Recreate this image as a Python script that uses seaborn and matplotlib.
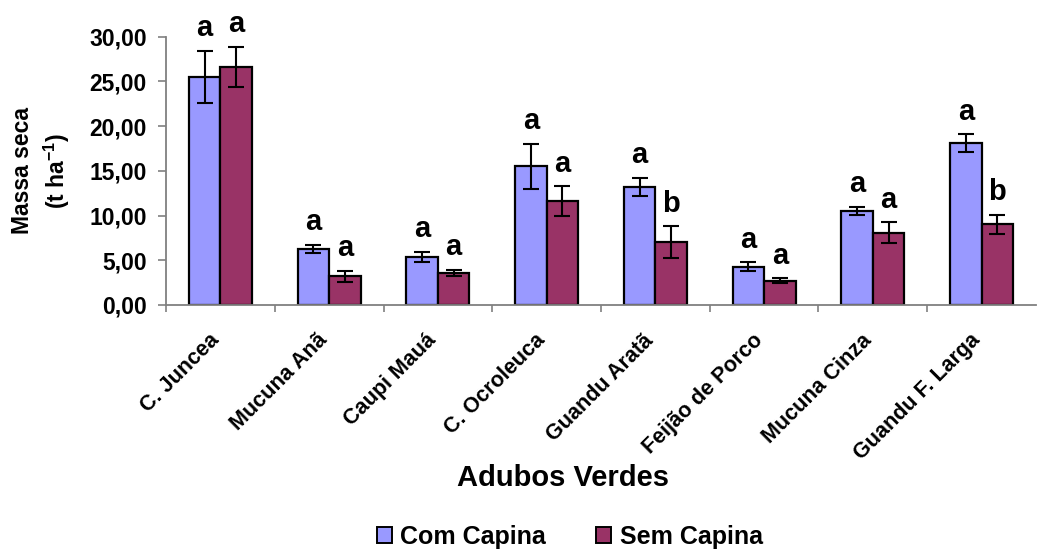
import matplotlib
matplotlib.use("Agg")
import matplotlib.pyplot as plt
from matplotlib.ticker import FixedLocator, FuncFormatter
from matplotlib.transforms import ScaledTranslation
import seaborn as sns
import pandas as pd
import numpy as np

# Green manure species and dry mass (t/ha) with and without weeding
especies = ["C. Juncea", "Mucuna Anã", "Caupi Mauá", "C. Ocroleuca",
            "Guandu Aratã", "Feijão de Porco", "Mucuna Cinza", "Guandu F. Larga"]
tratamentos = ["Com Capina", "Sem Capina"]

com_capina = [25.5, 6.3, 5.4, 15.5, 13.2, 4.3, 10.5, 18.1]
sem_capina = [26.6, 3.2, 3.6, 11.6, 7.0, 2.7, 8.1, 9.0]
erro_com = [2.9, 0.45, 0.55, 2.5, 1.05, 0.45, 0.45, 1.0]
erro_sem = [2.25, 0.65, 0.35, 1.65, 1.8, 0.28, 1.15, 1.1]
letras_com = ["a", "a", "a", "a", "a", "a", "a", "a"]
letras_sem = ["a", "a", "a", "a", "b", "a", "a", "b"]

cores = ["#9999FF", "#993366"]

sns.set_theme(style="white")
plt.rcParams["font.family"] = ["Liberation Sans", "DejaVu Sans"]
plt.rcParams["font.weight"] = "bold"
plt.rcParams["text.color"] = "black"
plt.rcParams["axes.labelcolor"] = "black"
plt.rcParams["xtick.labelcolor"] = "black"
plt.rcParams["ytick.labelcolor"] = "black"
plt.rcParams["mathtext.fontset"] = "custom"
plt.rcParams["mathtext.rm"] = "Liberation Sans:bold"
plt.rcParams["mathtext.bf"] = "Liberation Sans:bold"
plt.rcParams["mathtext.default"] = "bf"

df = pd.DataFrame({
    "especie": especies * 2,
    "tratamento": [tratamentos[0]] * len(especies) + [tratamentos[1]] * len(especies),
    "massa": com_capina + sem_capina,
})

fig = plt.figure(figsize=(10.38, 5.51), dpi=100)
ax = fig.add_axes([0.160, 0.4465, 0.838, 0.487])

sns.barplot(data=df, x="especie", y="massa", hue="tratamento",
            order=especies, hue_order=tratamentos, palette=cores,
            width=0.58, errorbar=None, edgecolor="black", linewidth=1.6,
            saturation=1, ax=ax, legend=True)

erros = [erro_com, erro_sem]
letras = [letras_com, letras_sem]
valores = [com_capina, sem_capina]
for cont, err, let, val in zip(ax.containers, erros, letras, valores):
    xs = [p.get_x() + p.get_width() / 2 for p in cont.patches]
    ax.errorbar(xs, val, yerr=err, fmt="none", ecolor="black",
                elinewidth=1.5, capsize=5.5, capthick=1.5, zorder=5)
    for x, v, e, s in zip(xs, val, err, let):
        ax.annotate(s, (x, v + e), xytext=(0, 10.5), textcoords="offset points",
                    ha="center", va="baseline", fontsize=21, color="black",
                    fontweight="bold", annotation_clip=False)

ax.set_ylim(0, 30)
ax.set_xlim(-0.5, len(especies) - 0.5)
ax.yaxis.set_major_locator(FixedLocator(np.arange(0, 31, 5)))
ax.yaxis.set_major_formatter(FuncFormatter(lambda v, p: f"{v:.2f}".replace(".", ",")))
ax.tick_params(axis="y", which="major", length=6, width=1.2, color="#808080",
               labelsize=16.5, pad=8, left=True, labelcolor="black")
ax.set_xticks(range(len(especies)))
ax.set_xticklabels(especies, rotation=45, ha="right", va="top",
                   rotation_mode="anchor", fontsize=15.5, fontweight="bold")
ax.tick_params(axis="x", which="major", length=0, pad=18, labelcolor="black")
shift = ScaledTranslation(-12 / 100, 0, fig.dpi_scale_trans)
for lbl in ax.get_xticklabels():
    lbl.set_transform(lbl.get_transform() + shift)
ax.xaxis.set_minor_locator(FixedLocator(np.arange(-0.5, len(especies) - 0.5, 1)))
ax.tick_params(axis="x", which="minor", length=5, width=1.2, color="#808080",
               bottom=True)

for side in ["top", "right"]:
    ax.spines[side].set_visible(False)
for side in ["left", "bottom"]:
    ax.spines[side].set_color("#808080")
    ax.spines[side].set_linewidth(1.3)

ax.set_xlabel("")
ax.set_ylabel("")
fig.text(0.040, 0.69, "Massa seca\n(t ha$^{-1}$)", rotation=90, ha="center",
         va="center", fontsize=16.5, fontweight="bold", linespacing=1.35,
         multialignment="center")
fig.text(0.542, 0.132, "Adubos Verdes", ha="center", va="center",
         fontsize=21, fontweight="bold")

ax.legend_.remove()
handles = [plt.Rectangle((0, 0), 1, 1, facecolor=c, edgecolor="black", linewidth=1.4)
           for c in cores]
fig.legend(handles, tratamentos, loc="center", bbox_to_anchor=(0.549, 0.025),
           ncol=2, frameon=False, handlelength=0.6,
           handleheight=0.6, handletextpad=0.35, columnspacing=2.0,
           prop={"weight": "bold", "size": 18})

fig.savefig("out.png", dpi=100)
